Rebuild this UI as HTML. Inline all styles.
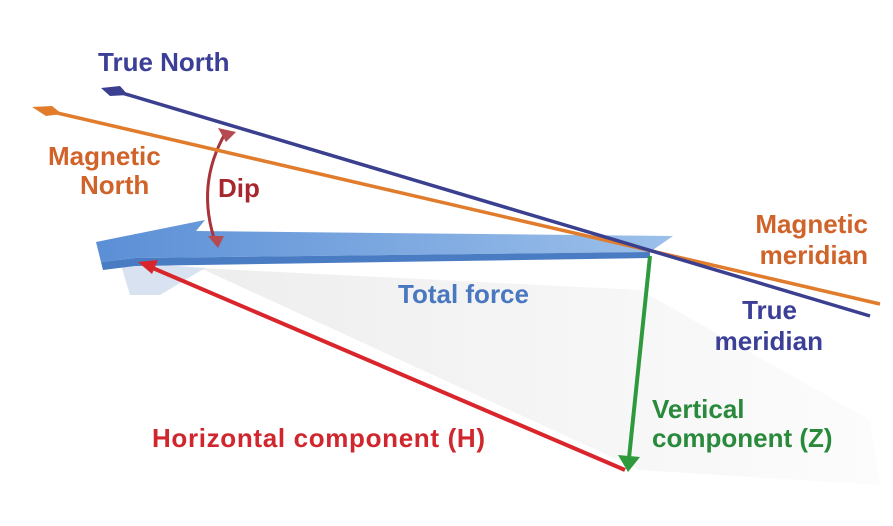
<!DOCTYPE html>
<html><head><meta charset="utf-8"><style>
html,body{margin:0;padding:0;background:#fff;width:893px;height:526px;overflow:hidden}
svg{display:block}
text{font-family:"Liberation Sans",sans-serif;font-weight:bold;font-size:26px}
</style></head><body>
<svg width="893" height="526" viewBox="0 0 893 526">
<defs>
<linearGradient id="sh" x1="0" y1="0" x2="1" y2="0">
<stop offset="0" stop-color="#e2e2e2"/><stop offset="1" stop-color="#fafafa"/>
</linearGradient>
<linearGradient id="pl" x1="0" y1="0" x2="1" y2="0">
<stop offset="0" stop-color="#5b8fd6"/><stop offset="1" stop-color="#9cc0ea"/>
</linearGradient>
</defs>
<polygon points="200,268 640,290 870,420 880,485 640,470" fill="url(#sh)" opacity="0.6"/>
<polygon points="120,262 205,268 160,295 130,295" fill="#c9d6ea" opacity="0.7"/>
<polygon points="96,242 205,220 196,231 673,236 650,252 135,258 101,262" fill="url(#pl)"/>
<polygon points="101,262 135,258 650,252 650,258 135,266 103,270" fill="#4a7cc4"/>
<path d="M226,132 Q195,185 216,244" fill="none" stroke="#a8343a" stroke-width="3"/>
<polygon points="218,128 236,132 226,142" fill="#b54a50"/>
<polygon points="208,236 224,236 218,248" fill="#b54a50"/>
<line x1="40" y1="109" x2="880" y2="304" stroke="#e07c2c" stroke-width="3.5"/>
<polygon points="32,107 52,106 62,114 46,116" fill="#e07c2c"/>
<line x1="112" y1="90" x2="870" y2="316" stroke="#3b3f8f" stroke-width="3.5"/>
<polygon points="101,88 120,86 128,95 110,96" fill="#3b3f8f"/>
<line x1="625" y1="470" x2="148" y2="266" stroke="#d8262c" stroke-width="4"/>
<polygon points="138,262 158,260 152,274" fill="#d8262c"/>
<line x1="650" y1="256" x2="629" y2="458" stroke="#2e9a3c" stroke-width="4"/>
<polygon points="618,455 640,457 628,472" fill="#2e9a3c"/>
<text x="98" y="71" fill="#3b3f96">True North</text>
<text x="48" y="165" fill="#d0632a">Magnetic</text>
<text x="80" y="194" fill="#d0632a">North</text>
<text x="218" y="197" fill="#a8262d">Dip</text>
<text x="398" y="303" fill="#4a78c0">Total force</text>
<text x="868" y="233" fill="#d0632a" text-anchor="end">Magnetic</text>
<text x="868" y="264" fill="#d0632a" text-anchor="end">meridian</text>
<text x="797" y="319" fill="#3b3f96" text-anchor="end">True</text>
<text x="823" y="350" fill="#3b3f96" text-anchor="end">meridian</text>
<text x="652" y="418" fill="#2a8a3c">Vertical</text>
<text x="652" y="447" fill="#2a8a3c">component (Z)</text>
<text x="152" y="447" fill="#d0262d" textLength="333">Horizontal component (H)</text>
</svg>
</body></html>
